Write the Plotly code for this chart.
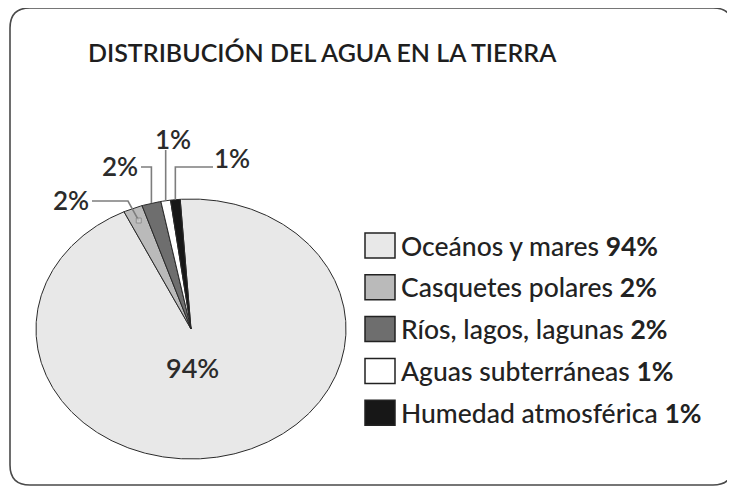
import numpy as np
import plotly.graph_objects as go

# datos
categorias = ["Oceános y mares", "Casquetes polares", "Ríos, lagos, lagunas",
              "Aguas subterráneas", "Humedad atmosférica"]
porcentajes = [94, 2, 2, 1, 1]
colores = ["#e8e8e8", "#bababa", "#6e6e6e", "#ffffff", "#171717"]
titulo = "DISTRIBUCIÓN DEL AGUA EN LA TIERRA"

# geometría en px de la página (la figura queda desplazada 8 px por el margen del body)
W, H = 735, 488
OFF = 8
CX, CY, RX, RY = 191, 329, 155, 130
INICIO = 94  # grados, sentido horario desde aquí
FUENTE = "Lato"


def a_paper(px, py):
    return (px - OFF) / W, 1 - (py - OFF) / H


def a_datos(px, py):
    return (px - CX) / RX, (CY - py) / RY


fig = go.Figure()

total = sum(porcentajes)
acum = 0
medios = []
for cat, val, col in zip(categorias, porcentajes, colores):
    a0 = INICIO - 360 * acum / total
    a1 = a0 - 360 * val / total
    n = max(4, int(abs(a1 - a0) * 2))
    t = np.radians(np.linspace(a0, a1, n))
    xs = np.concatenate([[0], np.cos(t), [0]])
    ys = np.concatenate([[0], np.sin(t), [0]])
    fig.add_trace(go.Scatter(
        x=xs, y=ys, mode="lines", fill="toself", fillcolor=col,
        line=dict(color="#2a2a2a", width=1), name=cat,
        hoverinfo="name", showlegend=False,
    ))
    medios.append(np.radians((a0 + a1) / 2))
    acum += val

# etiquetas de porcentaje (centro del texto, px)
pos_etiquetas = [(192, 367), (71, 200), (120, 166), (173, 139), (232, 158)]
# guías: puntos en px; "s" = x del punto medio de la porción
guias = {
    1: [(92, 201), (128, 201)],
    2: [(141, 167), ("s", 167)],
    3: [("s", 150)],
    4: [(213, 167), ("s", 167)],
}

for i, (px, py) in enumerate(pos_etiquetas):
    xp, yp = a_paper(px, py)
    fig.add_annotation(x=xp, y=yp, xref="paper", yref="paper", xanchor="center", yanchor="middle",
                       text=f"{porcentajes[i]}%", showarrow=False,
                       font=dict(family=FUENTE, size=27 if i == 0 else 26, color="#2b2b2b", weight=600))
    if i in guias:
        r = 0.9 if i == 1 else 1.0
        sx = CX + RX * r * np.cos(medios[i])
        sy = CY - RY * r * np.sin(medios[i])
        pts = [(sx if gx == "s" else gx, gy) for gx, gy in guias[i]] + [(sx, sy)]
        dx, dy = zip(*[a_datos(a, b) for a, b in pts])
        fig.add_trace(go.Scatter(
            x=dx, y=dy, mode="lines+markers",
            line=dict(color="#7d7d7d", width=1.6),
            marker=dict(symbol="square", size=[0] * (len(pts) - 1) + [5 if i == 1 else 0],
                        color="#d0d0d0", line=dict(color="#7d7d7d", width=1)),
            hoverinfo="skip", showlegend=False,
        ))

# leyenda manual
for i, (cat, val, col) in enumerate(zip(categorias, porcentajes, colores)):
    cy = 245.5 + 41.8 * i
    x0, y0 = a_paper(365, cy + 12.5)
    x1, y1 = a_paper(395, cy - 12.5)
    fig.add_shape(type="rect", xref="paper", yref="paper", x0=x0, y0=y0, x1=x1, y1=y1,
                  fillcolor=col, line=dict(color="#222222", width=1.5))
    tx, ty = a_paper(399, cy)
    fig.add_annotation(x=tx, y=ty, xref="paper", yref="paper", xanchor="left", yanchor="middle",
                       text=f"{cat} <b>{val}%</b>", showarrow=False,
                       font=dict(family=FUENTE, size=26.5, color="#222222", weight=500))

# título
tx, ty = a_paper(322, 52)
fig.add_annotation(x=tx, y=ty, xref="paper", yref="paper", xanchor="center", yanchor="middle",
                   text=titulo, showarrow=False,
                   font=dict(family=FUENTE, size=25, color="#1e1e1e", weight=600))

# marco redondeado
bx0, by0, bx1, by1, rad = 10, 8, 733, 485, 20
rx, ry = rad / W, rad / H
l, t_ = a_paper(bx0, by0)
r_, b = a_paper(bx1, by1)
marco = (f"M{l + rx},{t_} L{r_ - rx},{t_} Q{r_},{t_} {r_},{t_ - ry} "
         f"L{r_},{b + ry} Q{r_},{b} {r_ - rx},{b} L{l + rx},{b} Q{l},{b} {l},{b + ry} "
         f"L{l},{t_ - ry} Q{l},{t_} {l + rx},{t_} Z")
fig.add_shape(type="path", xref="paper", yref="paper", path=marco,
              line=dict(color="#4a4a4a", width=1.6))

fig.update_layout(
    width=W, height=H,
    margin=dict(l=0, r=0, t=0, b=0),
    paper_bgcolor="white", plot_bgcolor="white",
    xaxis=dict(range=[-(CX - OFF) / RX, (W - CX + OFF) / RX], visible=False, fixedrange=True),
    yaxis=dict(range=[-(H - CY + OFF) / RY, (CY - OFF) / RY], visible=False, fixedrange=True),
    showlegend=False,
)

fig.write_html("out.html")
